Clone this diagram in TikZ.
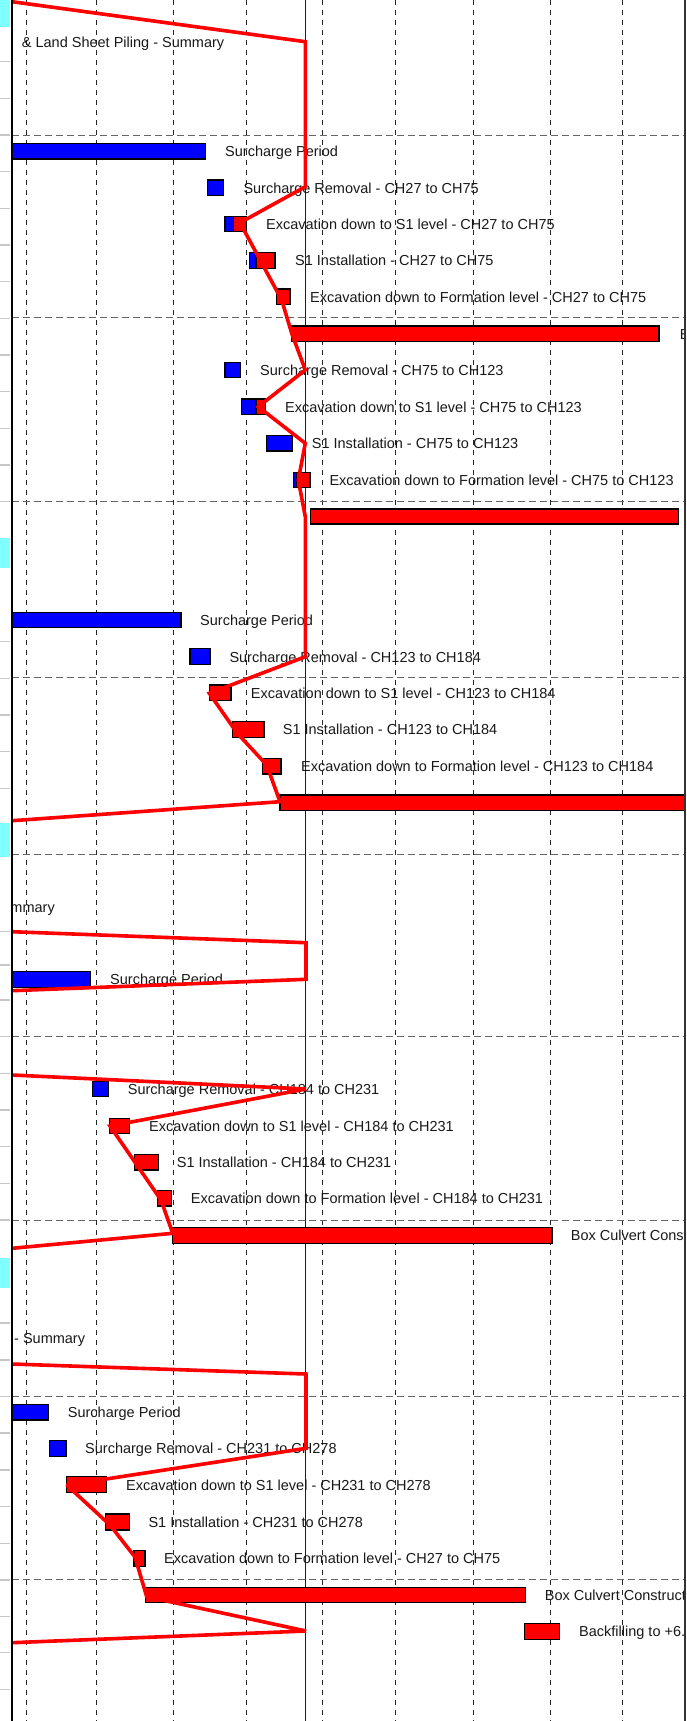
\documentclass[tikz,border=0pt]{standalone}
\usepackage{fontspec}
\setmainfont{Liberation Sans}
\definecolor{gutter}{RGB}{128,255,255}
\definecolor{barblue}{RGB}{0,0,255}
\definecolor{barred}{RGB}{255,0,0}
\tikzset{
  vgrid/.style={black!85, line width=0.8pt, dash pattern=on 5pt off 5pt},
  hgrid/.style={black!60, line width=1pt, dash pattern=on 7pt off 4pt},
  bbar/.style={draw=black, fill=barblue, line width=1.5pt},
  rbar/.style={draw=black, fill=barred, line width=1.5pt},
  lbl/.style={anchor=base west, inner sep=0pt, font=\fontsize{14.5}{17}\selectfont, text=black!90},
  lble/.style={lbl, anchor=base east},
  prog/.style={barred, line width=3.6pt, line join=miter, miter limit=2},
  status/.style={barblue, line width=1pt},
  rowtick/.style={black!22, line width=1.5pt},
  cyanpatch/.style={fill=gutter, draw=none}
}
\newcommand{\tbar}[5]{\draw[#1] (#2,#4) rectangle (#3,#5);}
\newcommand{\tlabel}[4]{\node[lbl] (#1) at (#2,{#3+5.2}) {#4};}
\begin{document}
\begin{tikzpicture}[x=1pt,y=-1pt]
\useasboundingbox (0,0) rectangle (686,1721);
\fill[white] (0,0) rectangle (686,1721);
% left gutter: cyan patches and row ticks
\foreach \a/\b in {0/27,538/568,823/857,1258/1288}
  \fill[cyanpatch] (0,\a) rectangle (10,\b);
\foreach \t in {61.7,98.3,135,171.7,208.3,245,281.7,318.3,355,391.7,428.3,465,501.7,
  641.7,678.3,715,751.7,788.3,931.7,965,1000,1036.7,1073.3,1110,1146.7,1183.3,1220,
  1323,1360,1396.7,1433,1470,1506.7,1543.3,1580,1616.7,1652.7,1689.3}
  \draw[rowtick] (0,\t) -- (10,\t);
\begin{scope}
\clip (12,0) rectangle (685,1721);
% grid
\foreach \x in {26.7,96.7,173.3,246.7,322.7,395.7,473,550,622.3}
  \draw[vgrid] (\x,0) -- (\x,1721);
\foreach \y in {135.7,317.3,501,677.7,854.3,1036.7,1220,1396.7,1579.3}
  \draw[hgrid] (12,\y) -- (685,\y);
% status date
\draw[status] (305.3,0) -- (305.3,1721);
% group 1
\tbar{bbar}{10}{205.7}{143.3}{159}
\tbar{bbar}{207.3}{223.3}{180}{195.7}
\tbar{bbar}{225}{233.3}{216.7}{231.7}
\tbar{rbar}{233.3}{246.7}{216.7}{231.7}
\tbar{bbar}{249.3}{256}{252.3}{268.3}
\tbar{rbar}{256}{275}{252.3}{268.3}
\tbar{rbar}{276.7}{290}{289}{304.5}
\tbar{rbar}{291.7}{659}{326}{341.7}
\tbar{bbar}{225}{240.7}{362.3}{377.7}
\tbar{bbar}{241.7}{256}{399}{414.3}
\tbar{rbar}{256}{265.7}{399}{414.3}
\tbar{bbar}{266.7}{292.7}{435.7}{451}
\tbar{bbar}{293.3}{296.7}{472.3}{487.7}
\tbar{rbar}{296.7}{310}{472.3}{487.7}
\tbar{rbar}{310.7}{678.7}{509}{524}
% group 2
\tbar{bbar}{10}{181}{612.3}{627.7}
\tbar{bbar}{190}{210}{648.3}{664.3}
\tbar{rbar}{209.3}{231}{685}{700.7}
\tbar{rbar}{232.3}{264}{721.7}{737.3}
\tbar{rbar}{262.7}{281}{758.3}{774}
\tbar{rbar}{280}{700}{795}{810.7}
% group 3
\tbar{bbar}{10}{90.7}{971.7}{987.3}
\tbar{bbar}{92.3}{108.3}{1081.7}{1096.7}
\tbar{rbar}{109.3}{129.3}{1118.3}{1133.3}
\tbar{rbar}{134.3}{158.3}{1154.3}{1170}
\tbar{rbar}{157.3}{171.7}{1190.5}{1206}
\tbar{rbar}{172.7}{552}{1227.3}{1243.3}
% group 4
\tbar{bbar}{10}{48.3}{1404.3}{1420}
\tbar{bbar}{49.3}{66}{1440.7}{1456.7}
\tbar{rbar}{66.7}{106.7}{1476.7}{1492.7}
\tbar{rbar}{105.7}{129.3}{1514}{1530}
\tbar{rbar}{134}{145}{1550.7}{1566.7}
\tbar{rbar}{145.7}{525.3}{1587.3}{1602.7}
\tbar{rbar}{524.7}{559.7}{1623.3}{1639.3}
% labels
\tlabel{t1}{21.7}{42}{\& Land Sheet Piling - Summary}
\tlabel{t2}{225}{151}{Surcharge Period}
\tlabel{t3}{243.3}{188}{Surcharge Removal - CH27 to CH75}
\tlabel{t4}{266}{224}{Excavation down to S1 level - CH27 to CH75}
\tlabel{t5}{295}{260}{S1 Installation - CH27 to CH75}
\tlabel{t6}{310}{297}{Excavation down to Formation level - CH27 to CH75}
\tlabel{t7}{679.7}{334}{Box Culvert Construction}
\tlabel{t8}{260}{370}{Surcharge Removal - CH75 to CH123}
\tlabel{t9}{285}{407}{Excavation down to S1 level - CH75 to CH123}
\tlabel{t10}{311.7}{443}{S1 Installation - CH75 to CH123}
\tlabel{t11}{329.3}{480}{Excavation down to Formation level - CH75 to CH123}
\tlabel{t13}{200}{620}{Surcharge Period}
\tlabel{t14}{229.3}{657}{Surcharge Removal - CH123 to CH184}
\tlabel{t15}{250.7}{693}{Excavation down to S1 level - CH123 to CH184}
\tlabel{t16}{282.7}{729}{S1 Installation - CH123 to CH184}
\tlabel{t17}{301}{766}{Excavation down to Formation level - CH123 to CH184}
\node[lble] (t19) at (55,912.2) {Summary};
\tlabel{t20}{110}{979}{Surcharge Period}
\tlabel{t21}{127.7}{1089}{Surcharge Removal - CH184 to CH231}
\tlabel{t22}{149}{1126}{Excavation down to S1 level - CH184 to CH231}
\tlabel{t23}{176.7}{1162}{S1 Installation - CH184 to CH231}
\tlabel{t24}{190.7}{1198}{Excavation down to Formation level - CH184 to CH231}
\tlabel{t25}{570.7}{1235}{Box Culvert Construction}
\tlabel{t26}{14}{1338}{- Summary}
\tlabel{t27}{67.7}{1412}{Surcharge Period}
\tlabel{t28}{85}{1448}{Surcharge Removal - CH231 to CH278}
\tlabel{t29}{126}{1485}{Excavation down to S1 level - CH231 to CH278}
\tlabel{t30}{148.3}{1522}{S1 Installation - CH231 to CH278}
\tlabel{t31}{164}{1558}{Excavation down to Formation level - CH27 to CH75}
\tlabel{t32}{544.7}{1595}{Box Culvert Construction}
\tlabel{t33}{579}{1631}{Backfilling to +6.}
% progress line vertices
\coordinate (p0) at (12,1.7);
\coordinate (p1) at (305.3,41.7);
\coordinate (p2) at (305.3,186.7);
\coordinate (p3) at (240,222.7);
\coordinate (p4) at (281.7,300);
\coordinate (p5) at (291.7,333.3);
\coordinate (p6) at (305.3,370);
\coordinate (p7) at (258.3,406.7);
\coordinate (p8) at (305.3,443.3);
\coordinate (p9) at (298.3,480);
\coordinate (p10) at (305.3,516.7);
\coordinate (p11) at (305.3,656.7);
\coordinate (p12) at (209.3,693.3);
\coordinate (p13) at (237.3,733.3);
\coordinate (p14) at (266.7,765);
\coordinate (p15) at (280,801.7);
\coordinate (p16) at (12,820.7);
\coordinate (q0) at (12,931.7);
\coordinate (q1) at (306,942.7);
\coordinate (q2) at (306,979.3);
\coordinate (q3) at (12,990.7);
\coordinate (r0) at (12,1075);
\coordinate (r1) at (306,1089);
\coordinate (r2) at (110,1126);
\coordinate (r3) at (161,1200);
\coordinate (r4) at (172.7,1233.3);
\coordinate (r5) at (12,1248.3);
\coordinate (s0) at (12,1364);
\coordinate (s1) at (306,1374);
\coordinate (s2) at (306,1448.3);
\coordinate (s3) at (66.7,1485);
\coordinate (s4) at (110,1525);
\coordinate (s5) at (135,1557);
\coordinate (s6) at (146.7,1596.7);
\coordinate (s7) at (306,1631);
\coordinate (s8) at (12,1642.7);
\draw[prog] (p0) -- (p1) -- (p2) -- (p3) -- (p4) -- (p5) -- (p6) -- (p7) -- (p8) -- (p9) -- (p10) -- (p11) -- (p12) -- (p13) -- (p14) -- (p15) -- (p16);
\draw[prog] (q0) -- (q1) -- (q2) -- (q3);
\draw[prog] (r0) -- (r1) -- (r2) -- (r3) -- (r4) -- (r5);
\draw[prog] (s0) -- (s1) -- (s2) -- (s3) -- (s4) -- (s5) -- (s6) -- (s7) -- (s8);
\end{scope}
% borders
\draw[black, line width=2pt] (12,0) -- (12,1721);
\draw[black!80, line width=1.5pt] (685,0) -- (685,1721);
\end{tikzpicture}
\end{document}
